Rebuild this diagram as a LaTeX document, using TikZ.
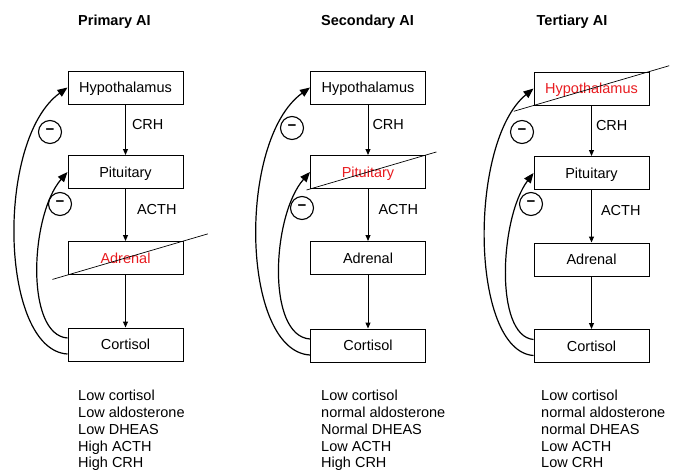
\documentclass[tikz,border=0pt]{standalone}
\usepackage{fontspec}
\setmainfont{Liberation Sans}
\usetikzlibrary{calc,arrows.meta}
\definecolor{crossred}{RGB}{232,28,32}
\begin{document}
\begin{tikzpicture}[x=1pt,y=-1pt,
  txt/.style={font=\fontsize{14.5}{16.8}\selectfont},
  box/.style={txt,draw,line width=1pt,minimum width=115pt,minimum height=33pt,inner sep=0pt,text height=10.4pt,text depth=0pt},
  ttl/.style={font=\fontsize{14.5}{17}\selectfont\bfseries,anchor=base,inner sep=0pt},
  lbl/.style={txt,anchor=west,inner sep=0pt},
  lst/.style={txt,anchor=north west,align=left,inner sep=0pt},
  minus/.style={font=\fontsize{15}{17}\selectfont\bfseries,draw,circle,line width=1.1pt,minimum size=23pt,inner sep=0pt},
  down/.style={line width=1pt,-{Triangle[length=6pt,width=5pt]}},
  fb/.style={line width=1.2pt,-{Triangle[length=10pt,width=8pt]}},
  strike/.style={line width=0.7pt},
  crossed/.style={text=crossred}
]
\useasboundingbox (0,0) rectangle (677,471);

% ---------------- Panel 1 ----------------
\node[ttl] (t1) at (114.5,25.5) {Primary AI};
\node[box] (h1) at (125.5,87.5) {Hypothalamus};
\node[box] (p1) at (125.5,172) {Pituitary};
\node[box,crossed] (a1) at (125.5,258) {Adrenal};
\node[box] (c1) at (125.5,344.5) {Cortisol};
\draw[down] (h1) -- (p1) node[lbl,pos=0.4,xshift=6pt] (crh1) {CRH};
\draw[down] (p1) -- (a1) node[lbl,pos=0.4,xshift=11pt] (acth1) {ACTH};
\draw[down] (a1) -- (c1);
\draw[strike] ($(a1.south west)!-0.13!(a1.north east)$) -- ($(a1.south west)!1.21!(a1.north east)$);
\draw[fb] ([yshift=-9.5pt]c1.west) .. controls (0,350) and (-5,140) .. (h1.west);
\draw[fb] ([yshift=6.5pt]c1.west) .. controls (25,335) and (30,215) .. (p1.west);
\node[minus] (m1a) at (50,132) {−};
\node[minus] (m1b) at (60,204) {−};
\node[lst] (l1) at (78,390) {Low cortisol\\Low aldosterone\\Low DHEAS\\High ACTH\\High CRH};

% ---------------- Panel 2 ----------------
\node[ttl] (t2) at (367.5,25.5) {Secondary AI};
\node[box] (h2) at (368,87.5) {Hypothalamus};
\node[box,crossed] (p2) at (368,172) {Pituitary};
\node[box] (a2) at (368,258) {Adrenal};
\node[box] (c2) at (368,345.5) {Cortisol};
\draw[down] (h2) -- (p2) node[lbl,pos=0.4,xshift=4pt] (crh2) {CRH};
\draw[down] (p2) -- (a2) node[lbl,pos=0.4,xshift=10pt] (acth2) {ACTH};
\draw[down] (a2) -- (c2);
\draw[strike] ($(p2.south west)!-0.03!(p2.north east)$) -- ($(p2.south west)!1.09!(p2.north east)$);
\draw[fb] ([yshift=-9.5pt]c2.west) .. controls (241,351) and (237,140) .. (h2.west);
\draw[fb] ([yshift=6.5pt]c2.west) .. controls (266,336) and (272,215) .. (p2.west);
\node[minus] (m2a) at (292,128) {−};
\node[minus] (m2b) at (302,208) {−};
\node[lst] (l2) at (321,390) {Low cortisol\\normal aldosterone\\Normal DHEAS\\Low ACTH\\High CRH};

% ---------------- Panel 3 ----------------
\node[ttl] (t3) at (572,25.5) {Tertiary AI};
\node[box,crossed] (h3) at (591.5,88.5) {Hypothalamus};
\node[box] (p3) at (591.5,173) {Pituitary};
\node[box] (a3) at (591.5,259.5) {Adrenal};
\node[box] (c3) at (591.5,346) {Cortisol};
\draw[down] (h3) -- (p3) node[lbl,pos=0.4,xshift=4pt] (crh3) {CRH};
\draw[down] (p3) -- (a3) node[lbl,pos=0.4,xshift=9pt] (acth3) {ACTH};
\draw[down] (a3) -- (c3);
\draw[strike] ($(h3.south west)!-0.17!(h3.north east)$) -- ($(h3.south west)!1.17!(h3.north east)$);
\draw[fb] ([yshift=-9.5pt]c3.west) .. controls (470,351) and (468,142) .. (h3.west);
\draw[fb] ([yshift=6.5pt]c3.west) .. controls (494,336) and (500,217) .. (p3.west);
\node[minus] (m3a) at (522,132) {−};
\node[minus] (m3b) at (531,204) {−};
\node[lst] (l3) at (541,390) {Low cortisol\\normal aldosterone\\normal DHEAS\\Low ACTH\\Low CRH};
\end{tikzpicture}
\end{document}
